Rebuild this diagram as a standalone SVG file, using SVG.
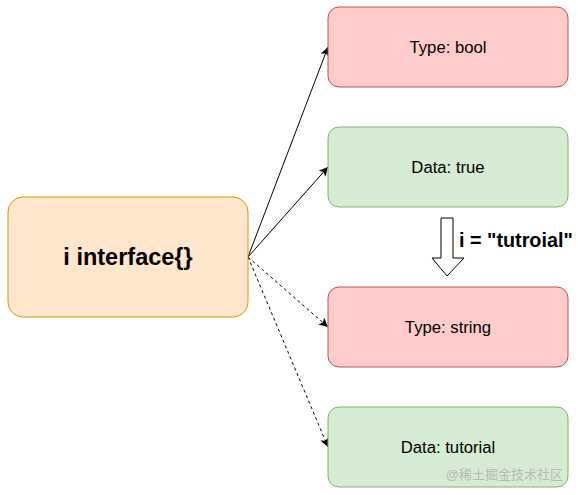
<svg xmlns="http://www.w3.org/2000/svg" width="578" height="495" viewBox="0 0 578 495">
<defs>
<style>
.red{fill:#ffcccc;stroke:#b85450;stroke-width:1}
.green{fill:#d5ebd3;stroke:#82b366;stroke-width:1}
.lbl{font-family:"Liberation Sans",Arial,sans-serif;font-size:16.7px;fill:#000;text-anchor:middle;dominant-baseline:central}
.conn{stroke:#000;stroke-width:1;fill:none}
.dash{stroke-dasharray:3,3}
</style>
<marker id="ah" viewBox="0 0 10 10" refX="10" refY="5" markerWidth="9" markerHeight="9" markerUnits="userSpaceOnUse" orient="auto">
<path d="M0,0 L10,5 L0,10 L2.5,5 Z" fill="#000"/>
</marker>
</defs>
<rect width="578" height="495" fill="#fff"/>
<g id="connectors">
<line class="conn" x1="248" y1="257" x2="328" y2="47" marker-end="url(#ah)"/>
<line class="conn" x1="248" y1="257" x2="328" y2="167" marker-end="url(#ah)"/>
<line class="conn dash" x1="248" y1="257" x2="328" y2="327" marker-end="url(#ah)"/>
<line class="conn dash" x1="248" y1="257" x2="328" y2="447" marker-end="url(#ah)"/>
</g>
<g id="iface">
<rect x="8" y="197" width="240" height="120" rx="15" fill="#ffe6cc" stroke="#d79b00"/>
<text x="128" y="257" class="lbl" style="font-size:23.5px;font-weight:bold">i interface{}</text>
</g>
<g id="type-bool">
<rect x="328" y="7" width="240" height="80" rx="11" class="red"/>
<text x="448" y="47" class="lbl">Type: bool</text>
</g>
<g id="data-true">
<rect x="328" y="127" width="240" height="80" rx="11" class="green"/>
<text x="448" y="167" class="lbl">Data: true</text>
</g>
<g id="assign">
<path d="M441,218 L453,218 L453,258 L464,258 L447,276 L432,258 L441,258 Z" fill="#fff" stroke="#000" stroke-width="1"/>
<text x="459" y="240" class="lbl" style="text-anchor:start;font-size:19.8px;font-weight:bold">i = "tutroial"</text>
</g>
<g id="type-string">
<rect x="328" y="287" width="240" height="80" rx="11" class="red"/>
<text x="448" y="327" class="lbl">Type: string</text>
</g>
<g id="data-tutorial">
<rect x="328" y="407" width="240" height="80" rx="11" class="green"/>
<text x="448" y="447" class="lbl">Data: tutorial</text>
</g>
<text x="563" y="479" text-anchor="end" style="font-family:'Liberation Sans','Noto Sans CJK SC',sans-serif;font-size:13px;fill:#b8b8b8">@稀土掘金技术社区</text>
</svg>
